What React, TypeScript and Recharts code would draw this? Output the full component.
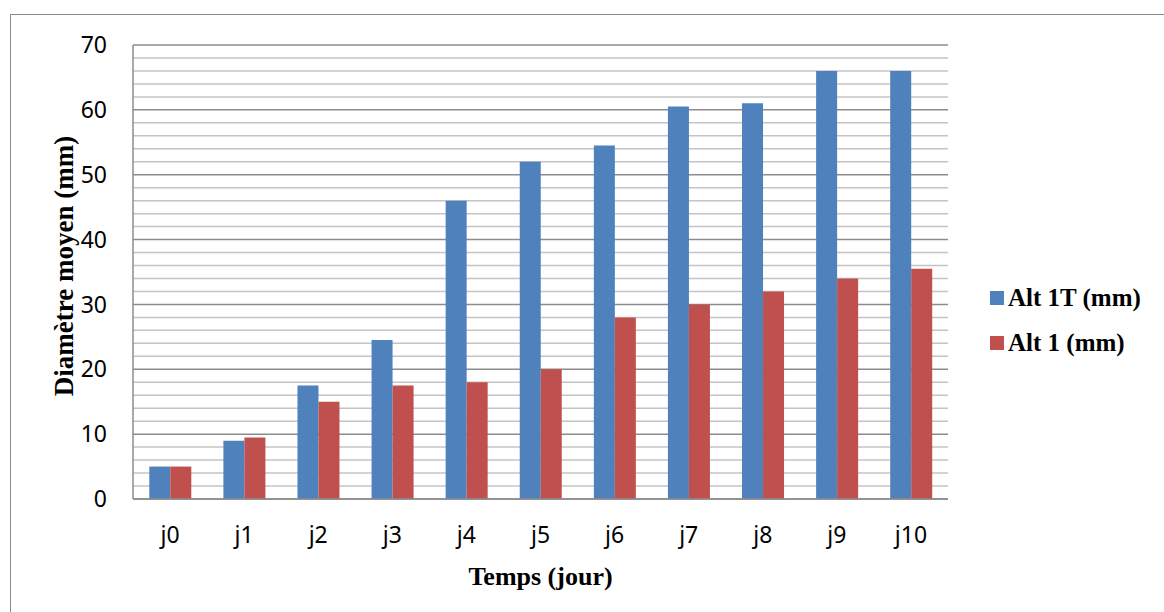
import React from 'react';
import { BarChart, Bar, XAxis, YAxis, CartesianGrid, Legend } from 'recharts';

const days = ['j0', 'j1', 'j2', 'j3', 'j4', 'j5', 'j6', 'j7', 'j8', 'j9', 'j10'];
const alt1T = [5, 9, 17.5, 24.5, 46, 52, 54.5, 60.5, 61, 66, 66];
const alt1 = [5, 9.5, 15, 17.5, 18, 20, 28, 30, 32, 34, 35.5];
const yTicks = [0, 10, 20, 30, 40, 50, 60, 70];
const minorLines = [2, 4, 6, 8, 12, 14, 16, 18, 22, 24, 26, 28, 32, 34, 36, 38, 42, 44, 46, 48, 52, 54, 56, 58, 62, 64, 66, 68];
const seriesOrder = ['alt1T', 'alt1'];
const Y_MAX = 70;

const BLUE = '#4F81BD';
const RED = '#C0504D';

const data = days.map((d, i) => ({ day: d, alt1T: alt1T[i], alt1: alt1[i] }));

const serif = '"Liberation Serif", "Times New Roman", serif';
const sans = '"Noto Sans", "Open Sans", sans-serif';

// minor grid positions, taken from the y axis scale when available
const minorCoords = (args: any) => {
    const scale = args?.yAxis?.scale;
    if (scale && typeof scale === 'function') {
        return minorLines.map((v) => scale(v));
    }
    const off = args.offset;
    return minorLines.map((v) => off.top + off.height * (1 - v / Y_MAX));
};

const LegendBox = (props: any) => {
    const items = [...(props.payload || [])].sort(
        (a: any, b: any) => seriesOrder.indexOf(a.dataKey) - seriesOrder.indexOf(b.dataKey)
    );
    return (
        <div>
            {items.map((it: any) => (
                <div key={it.value} style={{ display: 'flex', alignItems: 'center', height: 45 }}>
                    <div style={{ width: 14, height: 14, background: it.color, marginRight: 4 }} />
                    <span style={{ fontFamily: serif, fontWeight: 'bold', fontSize: 25, color: '#000', whiteSpace: 'nowrap' }}>{it.value}</span>
                </div>
            ))}
        </div>
    );
};

export default function App() {
    return (
        <div style={{ position: 'fixed', top: 0, left: 0, width: 1164, height: 612, overflow: 'hidden', background: '#fff' }}>
            <div style={{ position: 'absolute', left: 10, top: 14, width: 1200, height: 700, border: '1.5px solid #8a8a8a' }} />
            <div style={{ position: 'absolute', left: 0, top: 0 }}>
                <BarChart
                    width={1164}
                    height={612}
                    data={data}
                    margin={{ top: 45, right: 46, left: 53, bottom: 27 }}
                    barCategoryGap="22%"
                    barGap={0}
                >
                    <CartesianGrid vertical={false} stroke="#c4c4c4" strokeWidth={1.5} horizontalCoordinatesGenerator={minorCoords} />
                    <CartesianGrid vertical={false} stroke="#8c8c8c" strokeWidth={1.5} />
                    <XAxis
                        dataKey="day"
                        height={86}
                        tickLine={false}
                        axisLine={{ stroke: '#8c8c8c', strokeWidth: 1.5 }}
                        tick={{ fill: '#000', fontSize: 23, fontFamily: sans }}
                        tickMargin={22}
                        interval={0}
                        label={{ value: 'Temps (jour)', position: 'insideBottom', offset: 0, fill: '#000', fontSize: 26, fontWeight: 'bold', fontFamily: serif }}
                    />
                    <YAxis
                        width={80}
                        domain={[0, Y_MAX]}
                        ticks={yTicks}
                        tickLine={false}
                        axisLine={{ stroke: '#8c8c8c', strokeWidth: 1.5 }}
                        tick={{ fill: '#000', fontSize: 23, fontFamily: sans }}
                        tickMargin={20}
                        label={{ value: 'Diamètre moyen (mm)', angle: -90, position: 'insideLeft', offset: 10, dy: -6, fill: '#000', fontSize: 27, fontWeight: 'bold', fontFamily: serif, style: { textAnchor: 'middle' } }}
                    />
                    <Legend
                        layout="vertical"
                        verticalAlign="middle"
                        align="right"
                        content={<LegendBox />}
                        wrapperStyle={{ left: 990, top: 275, width: 170 }}
                    />
                    <Bar dataKey="alt1T" name="Alt 1T (mm)" fill={BLUE} isAnimationActive={false} />
                    <Bar dataKey="alt1" name="Alt 1 (mm)" fill={RED} isAnimationActive={false} />
                </BarChart>
            </div>
        </div>
    );
}
